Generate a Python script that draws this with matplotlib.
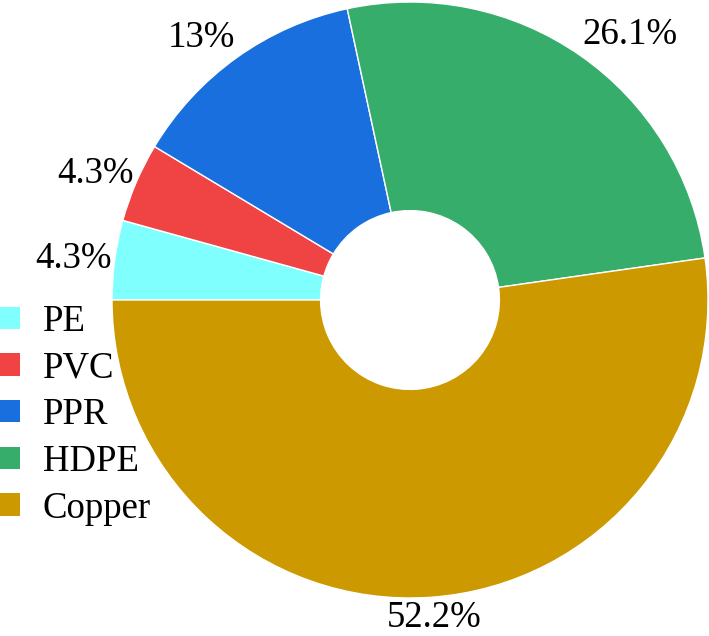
import matplotlib
matplotlib.use('Agg')
import matplotlib.pyplot as plt
from matplotlib.patches import Patch
import numpy as np

plt.rcParams['font.family'] = ['Liberation Serif', 'DejaVu Serif']

materials = ['PE', 'PVC', 'PPR', 'HDPE', 'Copper']
shares = [4.3, 4.3, 13, 26.1, 52.2]
colors = ['#80FFFF', '#F04444', '#1A6FDF', '#37AD6B', '#CC9900']

W, H = 709, 636
cx, cy = 410, 300   # pie centre in pixels (from top-left)
R = 298             # outer radius in pixels
fs = 26.5

fig = plt.figure(figsize=(W / 100, H / 100), dpi=100)
ax = fig.add_axes([0, 0, 1, 1])
ax.pie(shares, colors=colors, startangle=180, counterclock=False, radius=1,
       wedgeprops=dict(width=0.7, edgecolor='white', linewidth=1))
ax.set_xlim(-cx / R, (W - cx) / R)
ax.set_ylim(-(H - cy) / R, cy / R)
ax.set_aspect('auto')
ax.axis('off')

# outside labels, pushed outwards by half their width / height
total = sum(shares)
cum = np.cumsum(shares) - np.array(shares) / 2
mids = np.deg2rad(180 - 360 * cum / total)
texts = []
for s in shares:
    t = ax.text(0, 0, '{:g}%'.format(s), fontsize=fs, ha='center', va='baseline')
    texts.append(t)
fig.canvas.draw()
fs_px = fs * 100 / 72
for t, a in zip(texts, mids):
    w = t.get_window_extent().width
    c, s = np.cos(a), np.sin(a)
    px = (R + 3) * c + np.sign(c) * w / 2 * min(1, (abs(c) / 0.3) ** 2)
    py = (R + 3) * s + 0.7 * fs_px * s
    base = max(py - 0.338 * fs_px, -(H - cy) + 0.25 * fs_px)   # keep inside the figure
    t.set_position((px / R, base / R))

handles = [Patch(facecolor=col, edgecolor='none') for col in colors]
fig.legend(handles, materials, loc='center left', bbox_to_anchor=(0, 1 - 415 / H),
           frameon=False, fontsize=fs, handlelength=0.55, handleheight=0.55,
           handletextpad=0.61, labelspacing=0.33, borderaxespad=0, borderpad=0)

fig.savefig('out.png', dpi=100)
